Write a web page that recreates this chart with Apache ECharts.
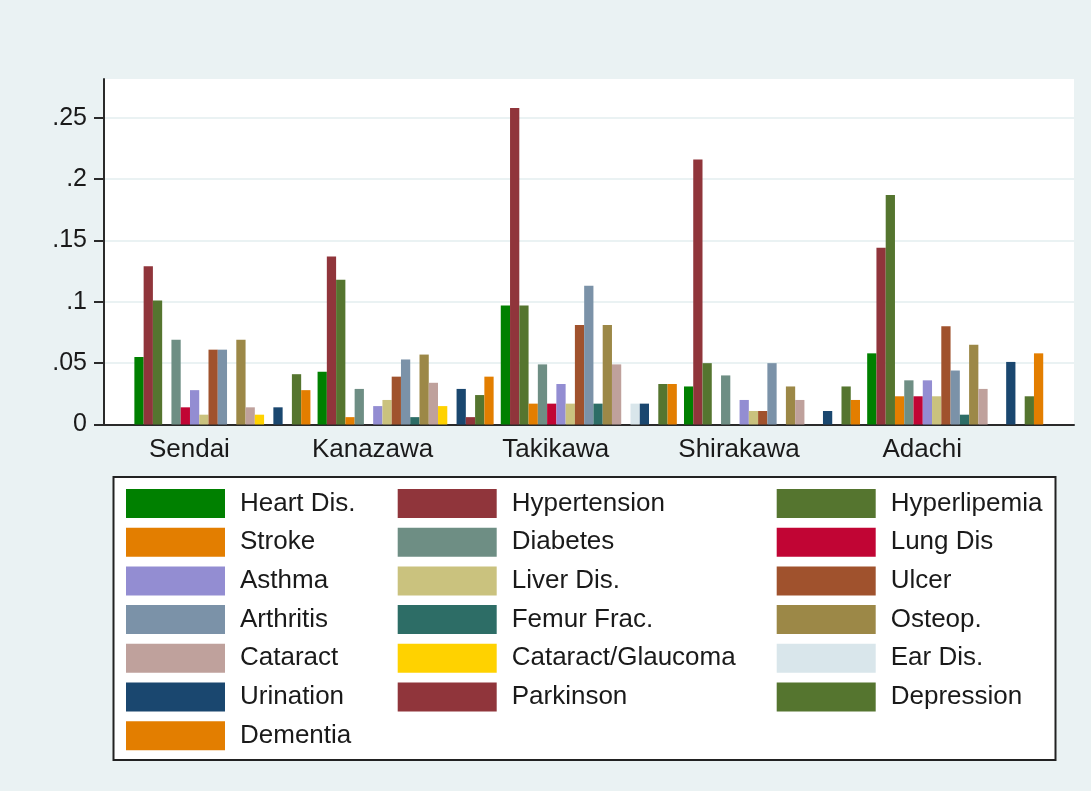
<!DOCTYPE html>
<html>
<head>
<meta charset="utf-8">
<script src="https://cdn.jsdelivr.net/npm/echarts@6/dist/echarts.min.js"></script>
<style>
html,body{margin:0;padding:0;background:#eaf2f3;}
#chart{width:1091px;height:791px;}
</style>
</head>
<body>
<div id="chart"></div>
<script>
// Categories (cities)
const cities = ['Sendai', 'Kanazawa', 'Takikawa', 'Shirakawa', 'Adachi'];
// Conditions (series), in legend/bar order
const conditions = ['Heart Dis.', 'Hypertension', 'Hyperlipemia', 'Stroke', 'Diabetes', 'Lung Dis',
  'Asthma', 'Liver Dis.', 'Ulcer', 'Arthritis', 'Femur Frac.', 'Osteop.', 'Cataract',
  'Cataract/Glaucoma', 'Ear Dis.', 'Urination', 'Parkinson', 'Depression', 'Dementia'];
const colors = ['#008000', '#90353b', '#55752f', '#e37e00', '#6e8e84', '#c10534',
  '#938dd2', '#cac27e', '#a0522d', '#7b92a8', '#2d6d66', '#9c8847', '#bfa19c',
  '#ffd200', '#d9e6eb', '#1a476f', '#90353b', '#55752f', '#e37e00'];
// Values per city, one per condition (null = no bar)
const sendai    = [0.055, 0.129, 0.101, null, 0.069, 0.014, 0.028, 0.008, 0.061, 0.061, null, 0.069, 0.014, 0.008, null, 0.014, null, 0.041, 0.028];
const kanazawa  = [0.043, 0.137, 0.118, 0.006, 0.029, null, 0.015, 0.020, 0.039, 0.053, 0.006, 0.057, 0.034, 0.015, null, 0.029, 0.006, 0.024, 0.039];
const takikawa  = [0.097, 0.258, 0.097, 0.017, 0.049, 0.017, 0.033, 0.017, 0.081, 0.113, 0.017, 0.081, 0.049, null, 0.017, 0.017, null, 0.033, 0.033];
const shirakawa = [0.031, 0.216, 0.050, null, 0.040, null, 0.020, 0.011, 0.011, 0.050, null, 0.031, 0.020, null, null, 0.011, null, 0.031, 0.020];
const adachi    = [0.058, 0.144, 0.187, 0.023, 0.036, 0.023, 0.036, 0.023, 0.080, 0.044, 0.008, 0.065, 0.029, null, null, 0.051, null, 0.023, 0.058];
// Y tick values
const yTicks = [0, 0.05, 0.1, 0.15, 0.2, 0.25];
const yMax = 0.2816;

const byCity = [sendai, kanazawa, takikawa, shirakawa, adachi];
const FONT = '"Liberation Sans", Arial, Helvetica, sans-serif';
const TXT = '#1a1a1a';

const series = conditions.map((name, i) => ({
  name: name,
  type: 'bar',
  xAxisIndex: 1,
  yAxisIndex: 1,
  barGap: '0%',
  barCategoryGap: '3.9%',
  itemStyle: { color: colors[i] },
  data: byCity.map(arr => arr[i] == null ? '-' : arr[i])
}));

const col1 = [0, 3, 6, 9, 12, 15, 18].map(i => conditions[i]);
const col2 = [1, 4, 7, 10, 13, 16].map(i => conditions[i]);
const col3 = [2, 5, 8, 11, 14, 17].map(i => conditions[i]);
const legendBase = {
  orient: 'vertical', top: 489, itemWidth: 99, itemHeight: 29, itemGap: 9.7,
  padding: 0, icon: 'rect', z: 5, selectedMode: false,
  textStyle: { fontSize: 26, fontFamily: FONT, color: TXT, lineHeight: 23, padding: [6, 0, 0, 10] }
};

const chart = echarts.init(document.getElementById('chart'), null, { renderer: 'canvas' });
chart.setOption({
  backgroundColor: '#eaf2f3',
  animation: false,
  textStyle: { fontFamily: FONT },
  grid: [
    { left: 104, right: 17, top: 79, bottom: 366.5, show: true, backgroundColor: '#ffffff', borderWidth: 0 },
    { left: 130.8, width: 916, top: 79, bottom: 366.5 }
  ],
  xAxis: [
    { type: 'value', gridIndex: 0, min: 0, max: 1, axisLabel: { show: false }, axisTick: { show: false },
      splitLine: { show: false }, axisLine: { show: true, onZero: false, lineStyle: { color: '#2a2a2a', width: 2 } } },
    { type: 'category', gridIndex: 1, data: cities, axisLine: { show: false }, axisTick: { show: false },
      axisLabel: { fontSize: 26, color: TXT, fontFamily: FONT, margin: 12, padding: [0, 66, 0, 0] } }
  ],
  yAxis: [
    { type: 'value', gridIndex: 0, min: 0, max: yMax,
      axisLine: { show: true, lineStyle: { color: '#2a2a2a', width: 2 } },
      axisTick: { show: true, length: 10, customValues: yTicks, lineStyle: { color: '#2a2a2a', width: 2 } },
      axisLabel: { customValues: yTicks, fontSize: 25, color: TXT, fontFamily: FONT, margin: 17,
        formatter: v => v === 0 ? '0' : String(+(+v).toFixed(2)).replace(/^0/, '') },
      splitLine: { show: true, lineStyle: { color: '#eaf2f3', width: 2 } } },
    { type: 'value', gridIndex: 1, min: 0, max: yMax, show: false, splitLine: { show: false } }
  ],
  legend: [
    Object.assign({}, legendBase, { left: 126, data: col1 }),
    Object.assign({}, legendBase, { left: 397.7, data: col2 }),
    Object.assign({}, legendBase, { left: 776.7, data: col3 })
  ],
  graphic: [
    { type: 'rect', z: 1, shape: { x: 113.5, y: 477, width: 942, height: 283 },
      style: { fill: '#ffffff', stroke: '#222222', lineWidth: 2 } }
  ],
  series: series
});
</script>
</body>
</html>
